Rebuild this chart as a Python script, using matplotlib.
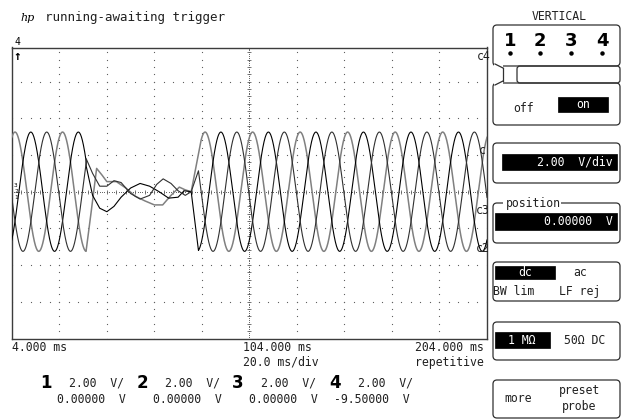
import numpy as np
import matplotlib
matplotlib.use("Agg")
import matplotlib.pyplot as plt
from matplotlib.patches import FancyBboxPatch, Rectangle

plt.rcParams['font.family'] = ['DejaVu Sans Mono', 'DejaVu Sans']

# time base / vertical settings shown on the screen
t_left, t_right = 4.0, 204.0        # ms
ms_per_div = 20.0
volts_per_div = 2.0

# steady three-phase part
channels = ['1', '2', '3']
amplitude = [3.25, 3.25, 3.25]      # V
freq_hz = 50.0
peak_ms = [5.35, 12.0, 18.7]        # time of one positive peak per channel
trace_colors = ['#808080', '#000000', '#303030']
trace_widths = [1.1, 0.8, 0.8]

# supply interruption: last steady sample before, first steady sample after (ms)
dip_start, dip_end = 35.3, 82.5

# residual voltage during the interruption, read point by point
dip_t1 = [35.3, 37.5, 39.7, 42.0, 44.0, 48.0, 52.0, 56.0, 60.0, 64.0, 67.5, 71.0, 74.5, 77.0, 79.5]
dip_v1 = [-3.20, -1.00, 1.27, 0.90, 0.55, 0.55, 0.20, -0.25, -0.50, -0.72, -0.72, -0.20, 0.25, 0.10, 0.00]
dip_t2 = [35.3, 38.0, 41.0, 44.0, 47.0, 50.0, 54.0, 58.0, 62.0, 66.0, 70.0, 74.0, 76.5, 79.5]
dip_v2 = [1.40, -0.20, -0.90, -1.09, -0.80, -0.30, 0.20, 0.45, 0.30, 0.00, -0.35, -0.30, 0.05, 0.00]
dip_t3 = [35.3, 38.0, 41.0, 44.0, 47.0, 50.0, 54.0, 58.0, 62.0, 65.0, 67.7, 71.0, 74.0, 77.0, 79.5]
dip_v3 = [1.80, 1.00, 0.30, 0.30, 0.60, 0.50, -0.10, -0.40, -0.20, 0.40, 0.70, 0.45, 0.05, -0.20, 0.00]
dip_t = [dip_t1, dip_t2, dip_t3]
dip_v = [dip_v1, dip_v2, dip_v3]

W, H = 628, 419
fig = plt.figure(figsize=(W / 100, H / 100), dpi=100)
fig.patch.set_facecolor('white')

# scope screen: x in ms, y in volts
px_per_v = 18.35
y_center = 191.7
box_left, box_right, box_top = 11.8, 487.0, 47.5
y_hi = (y_center - box_top) / px_per_v
y_lo = -8.0
box_bottom = y_center - y_lo * px_per_v
ax = fig.add_axes([box_left / W, 1 - box_bottom / H,
                   (box_right - box_left) / W, (box_bottom - box_top) / H])
ax.set_xlim(t_left, t_right)
ax.set_ylim(y_lo, y_hi)
ax.set_xticks([])
ax.set_yticks([])
for s in ax.spines.values():
    s.set_color('#3c3c3c')
    s.set_linewidth(1.0)

# dotted graticule
grid_c = '#606060'
xdiv = np.arange(t_left, t_right + 0.1, ms_per_div)
ydiv = np.arange(-8, 8.1, volts_per_div)
xs = np.arange(t_left, t_right + 0.1, ms_per_div / 5)
ys = np.arange(-8, 8.1, volts_per_div / 5)
for yv in ydiv[1:-1]:
    if yv == 0:
        continue
    ax.plot(xs, np.full_like(xs, yv), ls='none', marker='s', ms=0.8, color=grid_c, mec='none')
for xv in xdiv[1:-1]:
    if xv == 104:
        continue
    ax.plot(np.full_like(ys, xv), ys, ls='none', marker='s', ms=0.8, color=grid_c, mec='none')
# centre cross with fine ticks
xs_f = np.arange(t_left, t_right + 0.1, ms_per_div / 20)
ys_f = np.arange(-8, 8.1, volts_per_div / 20)
ax.plot(xs_f, np.zeros_like(xs_f), ls='none', marker='s', ms=0.7, color=grid_c, mec='none')
ax.plot(np.full_like(ys_f, 104.0), ys_f, ls='none', marker='s', ms=0.7, color=grid_c, mec='none')
ax.plot(xs, np.zeros_like(xs), ls='none', marker='|', ms=3, mew=0.6, color=grid_c)
ax.plot(np.full_like(ys, 104.0), ys, ls='none', marker='_', ms=3, mew=0.6, color=grid_c)

# traces
t = np.linspace(t_left, t_right, 3000)
for i in range(3):
    before = t < dip_start
    after = t >= dip_end
    tt = np.concatenate([t[before], dip_t[i], t[after]])
    steady = amplitude[i] * np.cos(2 * np.pi * freq_hz * (t - peak_ms[i]) / 1000.0)
    vv = np.concatenate([steady[before], dip_v[i], steady[after]])
    ax.plot(tt, vv, color=trace_colors[i], lw=trace_widths[i], zorder=3)

# overlay in pixel coordinates for all the screen text
ov = fig.add_axes([0, 0, 1, 1], zorder=5)
ov.set_xlim(0, W)
ov.set_ylim(H, 0)
ov.axis('off')
ov.patch.set_alpha(0)

txt = dict(fontsize=8.3, color='#202020', va='center')
ov.text(20, 18, 'hp', fontsize=8, style='italic', family='DejaVu Serif', va='center')
ov.text(45, 18, 'running-awaiting trigger', fontsize=9, color='#202020', va='center')

# channel markers on the screen
ov.text(17, 42, '4', fontsize=7, ha='center', va='center')
ov.text(17, 56, '\u2191', fontsize=9, fontweight='bold', ha='center', va='center')
for k, dy in enumerate([-6, 0, 6]):
    ov.text(16, y_center + dy, '321'[k], fontsize=4.5, ha='center', va='center')
ov.text(477, 56, 'c4', **txt)
ov.text(479, 150, 'c', **txt)
ov.text(476, 210, 'c3', **txt)
ov.text(476, 248, 'c2', **txt)

# time axis annotations
ov.text(12, 347, '4.000 ms', ha='left', **txt)
ov.text(243, 347, '104.000 ms', ha='left', **txt)
ov.text(484, 347, '204.000 ms', ha='right', **txt)
ov.text(243, 362, '20.0 ms/div', ha='left', **txt)
ov.text(484, 362, 'repetitive', ha='right', **txt)

# channel summary at the bottom
ch_x = [46, 142, 238, 335]
ch_scale = ['2.00  V/', '2.00  V/', '2.00  V/', '2.00  V/']
ch_offset = ['0.00000  V', '0.00000  V', '0.00000  V', '-9.50000  V']
off_x = [126, 222, 318, 410]
for i in range(4):
    ov.text(ch_x[i], 383, str(i + 1), fontsize=12, fontweight='bold',
            family='DejaVu Sans', ha='center', va='center')
    ov.text(ch_x[i] + 23, 383, ch_scale[i], ha='left', **txt)
    ov.text(off_x[i], 399, ch_offset[i], ha='right', **txt)

# right-hand softkey panel
edge = '#303030'


def rbox(x0, y0, x1, y1, r=4):
    p = FancyBboxPatch((x0 + r, y0 + r), x1 - x0 - 2 * r, y1 - y0 - 2 * r,
                       boxstyle='round,pad=%d' % r, fc='none', ec=edge, lw=0.9)
    ov.add_patch(p)


def black_bar(x0, y0, x1, y1):
    ov.add_patch(Rectangle((x0, y0), x1 - x0, y1 - y0, fc='black', ec='black', lw=0.5))


ov.text(559, 16, 'VERTICAL', ha='center', **txt)
rbox(493, 25, 620, 66)
rbox(517, 66, 620, 83, r=3)
rbox(493, 83, 620, 125)
ov.add_patch(Rectangle((494, 64), 9, 21, fc='white', ec='none', zorder=3))
ov.plot([503, 503], [68, 81], color=edge, lw=0.9, zorder=4)
ov.plot([495, 503], [64, 68], color=edge, lw=0.9, zorder=4)
ov.plot([495, 503], [85, 81], color=edge, lw=0.9, zorder=4)
for k, xd in enumerate([510, 540, 571, 602]):
    ov.text(xd, 41, str(k + 1), fontsize=13, fontweight='bold', family='DejaVu Sans',
            ha='center', va='center')
    ov.plot(xd, 53, marker='o', ms=2.2, color='black')
ov.text(524, 108, 'off', ha='center', **txt)
black_bar(558, 97, 608, 112)
ov.text(583, 104.5, 'on', ha='center', fontsize=8.3, color='white', va='center')

rbox(493, 143, 620, 183)
black_bar(502, 154, 617, 170)
ov.text(613, 162, '2.00  V/div', ha='right', fontsize=8.3, color='white', va='center')

rbox(493, 203, 620, 243)
ov.add_patch(Rectangle((503, 199), 58, 8, fc='white', ec='none', zorder=3))
ov.text(533, 203, 'position', ha='center', zorder=4, **txt)
black_bar(495, 213, 617, 230)
ov.text(613, 221.5, '0.00000  V', ha='right', fontsize=8.3, color='white', va='center')

rbox(493, 262, 620, 301)
black_bar(495, 266, 555, 279)
ov.text(525, 272, 'dc', ha='center', fontsize=8.3, color='white', va='center')
ov.text(580, 272, 'ac', ha='center', **txt)
ov.text(514, 291, 'BW lim', ha='center', **txt)
ov.text(580, 291, 'LF rej', ha='center', **txt)

rbox(493, 322, 620, 360)
black_bar(495, 332, 550, 348)
ov.text(522, 340, '1 M\u03a9', ha='center', fontsize=8.3, color='white', va='center')
ov.text(585, 340, '50\u03a9 DC', ha='center', **txt)

rbox(493, 380, 620, 418)
ov.text(518, 398, 'more', ha='center', **txt)
ov.text(579, 390, 'preset', ha='center', **txt)
ov.text(579, 406, 'probe', ha='center', **txt)

fig.savefig('out.png', dpi=100, facecolor='white')
